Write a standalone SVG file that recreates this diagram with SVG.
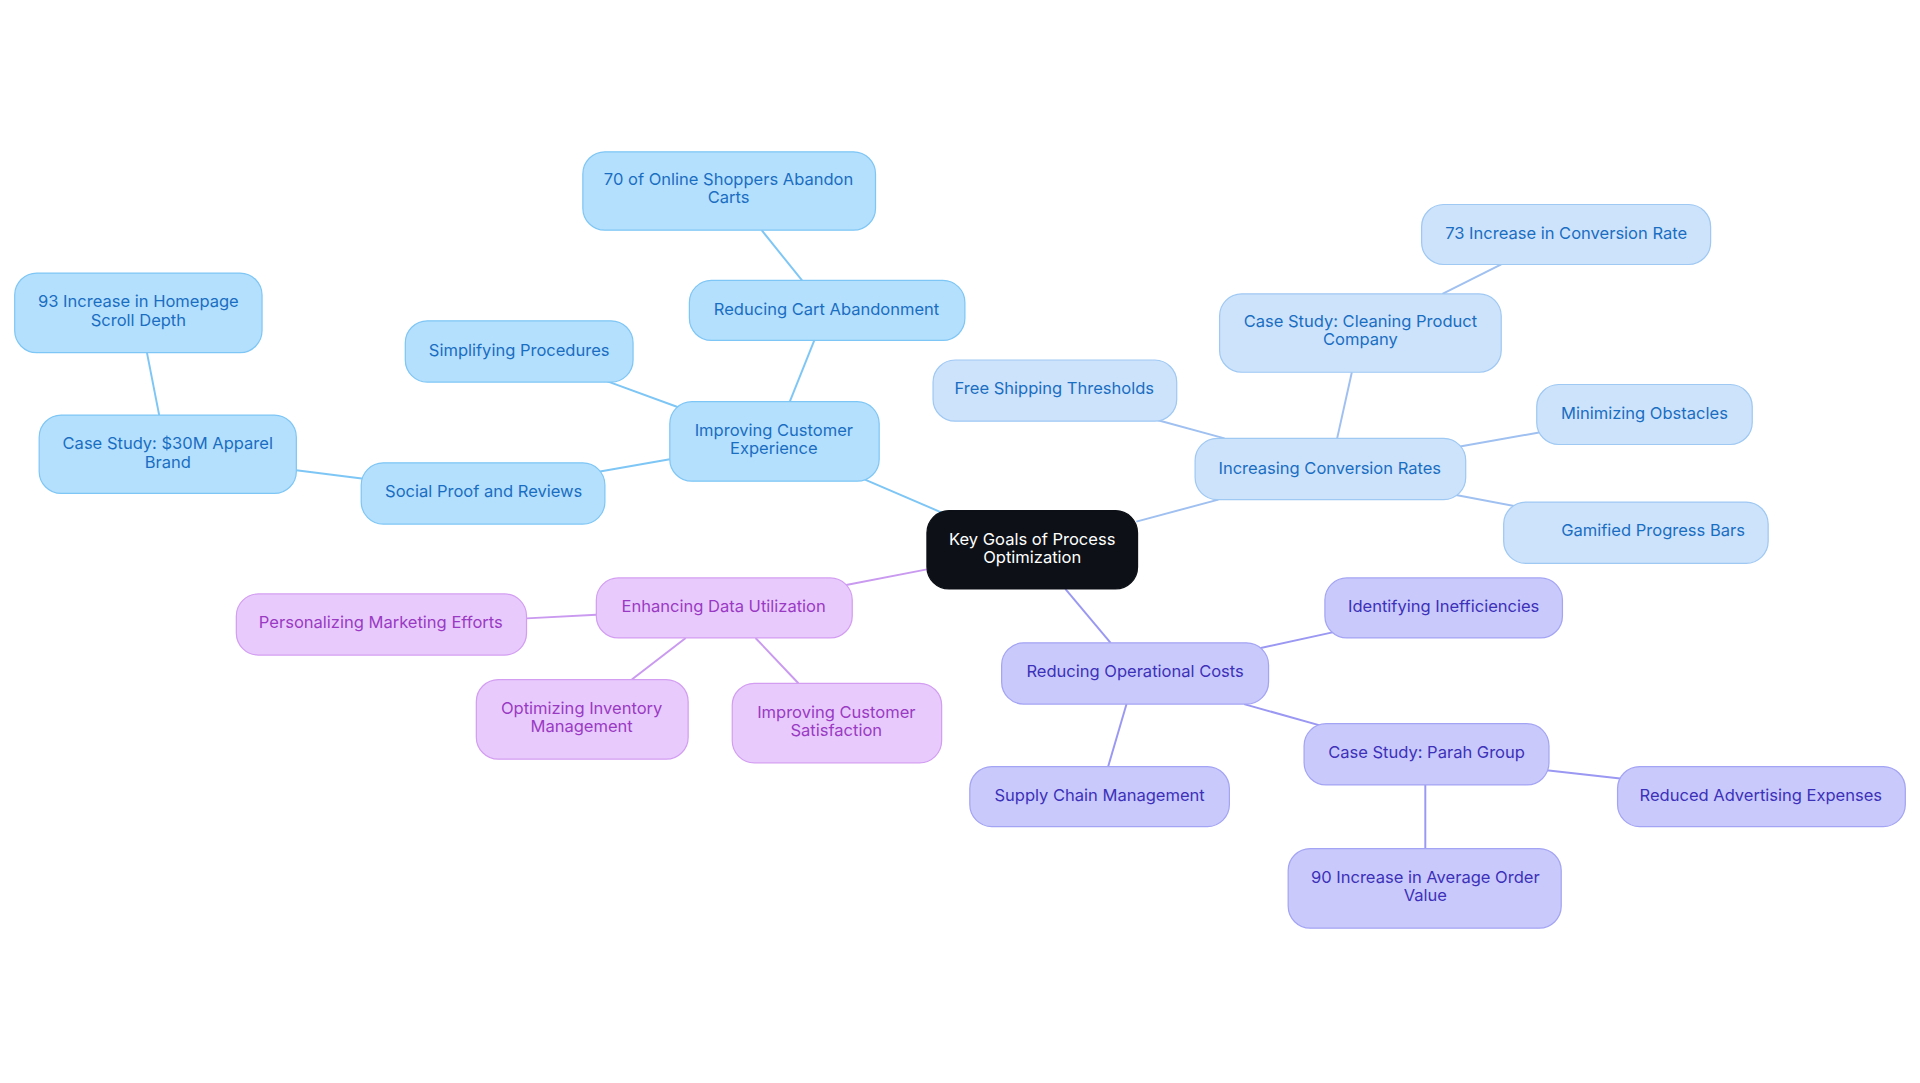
<svg xmlns="http://www.w3.org/2000/svg" width="1920" height="1083" viewBox="0 0 1920 1083">
<style>
text{font-family:Inter,"Noto Sans",sans-serif;font-size:13.5px;text-anchor:middle}
.b rect{fill:#b5e0fd;stroke:#7ec6f5}.b text{fill:#1a6ec2}
.l rect{fill:#cde3fb;stroke:#9fc8f3}.l text{fill:#1a6ec2}
.p rect{fill:#c9c9fc;stroke:#a4a4f4}.p text{fill:#3c31b8}
.k rect{fill:#e8cbfc;stroke:#d39ef2}.k text{fill:#9a3ac4}
.c rect{fill:#0d1117;stroke:#0d1117}.c text{fill:#fff}
rect{stroke-width:1}
.eb{stroke:#7ec6f5}.el{stroke:#9fc0f0}.ep{stroke:#9a98f2}.ek{stroke:#c99af0}
line{stroke-width:1.6}
</style>
<rect width="1920" height="1083" fill="#fff"/>
<g transform="scale(1.22449)">
<g id="connectors">
<line class="eb" x1="705" y1="391" x2="770" y2="419"/>
<line class="eb" x1="645" y1="328" x2="665" y2="278"/>
<line class="eb" x1="655" y1="229" x2="622" y2="188"/>
<line class="eb" x1="555" y1="333" x2="495" y2="311"/>
<line class="eb" x1="547" y1="375" x2="490" y2="385"/>
<line class="eb" x1="297" y1="391" x2="242" y2="384"/>
<line class="eb" x1="130" y1="339" x2="120" y2="288"/>
<line class="ek" x1="757" y1="465" x2="690" y2="478"/>
<line class="ek" x1="487" y1="502" x2="430" y2="505"/>
<line class="ek" x1="560" y1="521" x2="516" y2="555"/>
<line class="ek" x1="617" y1="521" x2="652" y2="558"/>
<line class="el" x1="928" y1="426" x2="995" y2="408"/>
<line class="el" x1="1000" y1="358" x2="945" y2="343"/>
<line class="el" x1="1092" y1="358" x2="1104" y2="304"/>
<line class="el" x1="1178" y1="240" x2="1226" y2="216"/>
<line class="el" x1="1190" y1="365" x2="1258" y2="353"/>
<line class="el" x1="1188" y1="404" x2="1262" y2="418"/>
<line class="ep" x1="870" y1="481" x2="907" y2="525"/>
<line class="ep" x1="1026" y1="530" x2="1090" y2="516"/>
<line class="ep" x1="920" y1="575" x2="905" y2="626"/>
<line class="ep" x1="1016" y1="575" x2="1080" y2="593"/>
<line class="ep" x1="1263" y1="629" x2="1325" y2="636"/>
<line class="ep" x1="1164" y1="641" x2="1164" y2="693"/>
</g>
<g id="center" class="c"><rect x="757" y="417" width="172" height="64" rx="18"/><text x="843" y="445">Key Goals of Process</text><text x="843" y="460">Optimization</text></g>
<g id="ice" class="b"><rect x="547" y="328" width="171" height="65" rx="18"/><text x="632" y="356">Improving Customer</text><text x="632" y="371">Experience</text></g>
<g id="rca" class="b"><rect x="563" y="229" width="225" height="49" rx="18"/><text x="675" y="257">Reducing Cart Abandonment</text></g>
<g id="n70" class="b"><rect x="476" y="124" width="239" height="64" rx="18"/><text x="595" y="151">70 of Online Shoppers Abandon</text><text x="595" y="166">Carts</text></g>
<g id="sp" class="b"><rect x="331" y="262" width="186" height="50" rx="18"/><text x="424" y="291">Simplifying Procedures</text></g>
<g id="spr" class="b"><rect x="295" y="378" width="199" height="50" rx="18"/><text x="395" y="406">Social Proof and Reviews</text></g>
<g id="cs30" class="b"><rect x="32" y="339" width="210" height="64" rx="18"/><text x="137" y="367">Case Study: $30M Apparel</text><text x="137" y="382">Brand</text></g>
<g id="n93" class="b"><rect x="12" y="223" width="202" height="65" rx="18"/><text x="113" y="251">93 Increase in Homepage</text><text x="113" y="266">Scroll Depth</text></g>
<g id="edu" class="k"><rect x="487" y="472" width="209" height="49" rx="18"/><text x="591" y="500">Enhancing Data Utilization</text></g>
<g id="pme" class="k"><rect x="193" y="485" width="237" height="50" rx="18"/><text x="311" y="513">Personalizing Marketing Efforts</text></g>
<g id="oim" class="k"><rect x="389" y="555" width="173" height="65" rx="18"/><text x="475" y="583">Optimizing Inventory</text><text x="475" y="598">Management</text></g>
<g id="ics" class="k"><rect x="598" y="558" width="171" height="65" rx="18"/><text x="683" y="586">Improving Customer</text><text x="683" y="601">Satisfaction</text></g>
<g id="icr" class="l"><rect x="976" y="358" width="221" height="50" rx="18"/><text x="1086" y="387">Increasing Conversion Rates</text></g>
<g id="fst" class="l"><rect x="762" y="294" width="199" height="50" rx="18"/><text x="861" y="322">Free Shipping Thresholds</text></g>
<g id="csc" class="l"><rect x="996" y="240" width="230" height="64" rx="18"/><text x="1111" y="267">Case Study: Cleaning Product</text><text x="1111" y="282">Company</text></g>
<g id="n73" class="l"><rect x="1161" y="167" width="236" height="49" rx="18"/><text x="1279" y="195">73 Increase in Conversion Rate</text></g>
<g id="mo" class="l"><rect x="1255" y="314" width="176" height="49" rx="18"/><text x="1343" y="342">Minimizing Obstacles</text></g>
<g id="gpb" class="l"><rect x="1228" y="410" width="216" height="50" rx="18"/><text x="1350" y="438">Gamified Progress Bars</text></g>
<g id="roc" class="p"><rect x="818" y="525" width="218" height="50" rx="18"/><text x="927" y="553">Reducing Operational Costs</text></g>
<g id="ii" class="p"><rect x="1082" y="472" width="194" height="49" rx="18"/><text x="1179" y="500">Identifying Inefficiencies</text></g>
<g id="scm" class="p"><rect x="792" y="626" width="212" height="49" rx="18"/><text x="898" y="654">Supply Chain Management</text></g>
<g id="csp" class="p"><rect x="1065" y="591" width="200" height="50" rx="18"/><text x="1165" y="619">Case Study: Parah Group</text></g>
<g id="rae" class="p"><rect x="1321" y="626" width="235" height="49" rx="18"/><text x="1438" y="654">Reduced Advertising Expenses</text></g>
<g id="n90" class="p"><rect x="1052" y="693" width="223" height="65" rx="18"/><text x="1164" y="721">90 Increase in Average Order</text><text x="1164" y="736">Value</text></g>
</g>
</svg>
